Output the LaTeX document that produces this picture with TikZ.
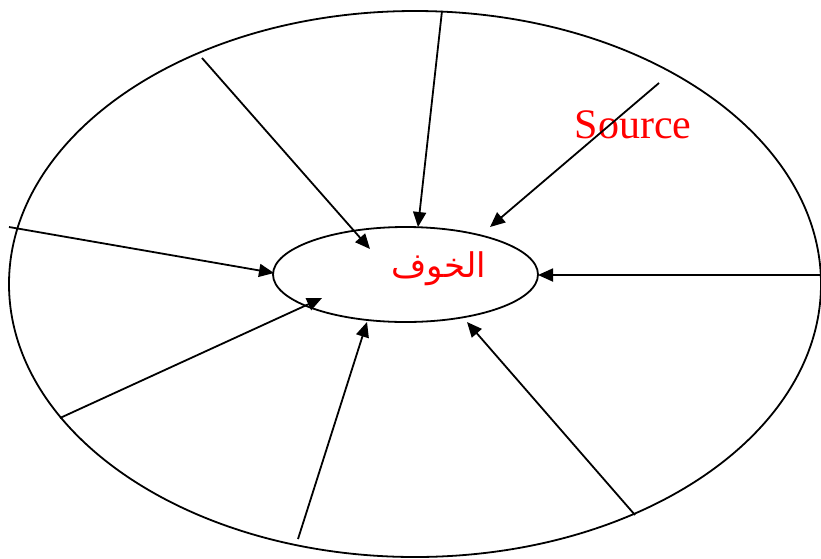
\documentclass[tikz,border=0pt]{standalone}
\usepackage{fontspec}
\setmainfont{Liberation Serif}
\newfontfamily\arabicfont[Script=Arabic]{DejaVu Sans}
\TeXXeTstate=1
\usetikzlibrary{arrows.meta,shapes.geometric}
\begin{document}
\begin{tikzpicture}[x=1pt,y=-1pt,
  line/.style={line width=1.8pt},
  arr/.style={line, -{Triangle[length=15pt,width=13pt]}},
  redtxt/.style={text=red, inner sep=0pt}]
\useasboundingbox (0,0) rectangle (821,558);
\node[ellipse, draw, line width=1.8pt, minimum width=812pt, minimum height=546pt, inner sep=0pt] (outer) at (415,284) {};
\node[ellipse, draw, line width=1.8pt, minimum width=265pt, minimum height=95pt, inner sep=0pt] (fear) at (405.5,274.5) {};
\node[redtxt, font=\arabicfont\fontsize{34}{36}\selectfont] (label) at (439,269) {\beginR الخوف\endR};
\node[redtxt, font=\fontsize{42}{45}\selectfont] (source) at (633,125) {Source};
% start and tip coordinates
\coordinate (s1) at (9,227);   \coordinate (t1) at (274,273);
\coordinate (s2) at (202,58);  \coordinate (t2) at (370,249);
\coordinate (s3) at (442,11);  \coordinate (t3) at (418,227);
\coordinate (s4) at (659,83);  \coordinate (t4) at (490,227);
\coordinate (s5) at (821,275); \coordinate (t5) at (538,275);
\coordinate (s6) at (635,515); \coordinate (t6) at (467,322);
\coordinate (s7) at (298,539); \coordinate (t7) at (367,322);
\coordinate (s8) at (60,418);  \coordinate (t8) at (322,298);
\foreach \i in {1,...,8} {\draw[arr] (s\i) -- (t\i);}
\end{tikzpicture}
\end{document}
